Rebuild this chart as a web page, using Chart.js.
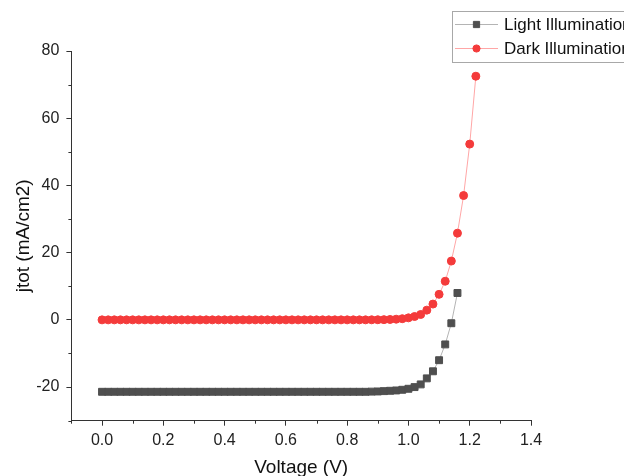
<!DOCTYPE html>
<html><head><meta charset="utf-8">
<script src="https://cdn.jsdelivr.net/npm/chart.js@4/dist/chart.umd.min.js"></script>
<style>
html,body{margin:0;padding:0;background:#fff;overflow:hidden;width:643px;height:476px}
#wrap{position:absolute;left:0;top:0;width:624px;height:476px}
</style></head><body><div id="wrap"><canvas id="c"></canvas></div>
<script>
// ---- data ----
const seriesNames = ['Light Illumination', 'Dark Illumination'];

const voltageLight = [0.00,0.02,0.04,0.06,0.08,0.10,0.12,0.14,0.16,0.18,
  0.20,0.22,0.24,0.26,0.28,0.30,0.32,0.34,0.36,0.38,
  0.40,0.42,0.44,0.46,0.48,0.50,0.52,0.54,0.56,0.58,
  0.60,0.62,0.64,0.66,0.68,0.70,0.72,0.74,0.76,0.78,
  0.80,0.82,0.84,0.86,0.88,0.90,0.92,0.94,0.96,0.98,
  1.00,1.02,1.04,1.06,1.08,1.10,1.12,1.14,1.16];
const jLight = [-21.4,-21.4,-21.4,-21.4,-21.4,-21.4,-21.4,-21.4,-21.4,-21.4,
  -21.4,-21.4,-21.4,-21.4,-21.4,-21.4,-21.4,-21.4,-21.4,-21.4,
  -21.4,-21.4,-21.4,-21.4,-21.4,-21.4,-21.4,-21.4,-21.4,-21.4,
  -21.4,-21.4,-21.4,-21.4,-21.4,-21.4,-21.4,-21.4,-21.4,-21.4,
  -21.4,-21.4,-21.4,-21.4,-21.35,-21.3,-21.2,-21.1,-21.0,-20.8,
  -20.5,-20.0,-19.2,-17.4,-15.3,-12.0,-7.3,-1.0,8.0];

const voltageDark = [0.00,0.02,0.04,0.06,0.08,0.10,0.12,0.14,0.16,0.18,
  0.20,0.22,0.24,0.26,0.28,0.30,0.32,0.34,0.36,0.38,
  0.40,0.42,0.44,0.46,0.48,0.50,0.52,0.54,0.56,0.58,
  0.60,0.62,0.64,0.66,0.68,0.70,0.72,0.74,0.76,0.78,
  0.80,0.82,0.84,0.86,0.88,0.90,0.92,0.94,0.96,0.98,
  1.00,1.02,1.04,1.06,1.08,1.10,1.12,1.14,1.16,1.18,
  1.20,1.22];
const jDark = [0,0,0,0,0,0,0,0,0,0,
  0,0,0,0,0,0,0,0,0,0,
  0,0,0,0,0,0,0,0,0,0,
  0,0,0,0,0,0,0,0,0,0,
  0,0,0,0,0.02,0.04,0.07,0.12,0.2,0.35,
  0.6,1.0,1.6,2.9,4.7,7.6,11.5,17.5,25.8,37.0,
  52.3,72.5];

const xTickLabels = ['0.0','0.2','0.4','0.6','0.8','1.0','1.2','1.4'];
const yTickLabels = ['-20','0','20','40','60','80'];
const xTitle = 'Voltage (V)';
const yTitle = 'jtot (mA/cm2)';

// ---- chart ----
const FONT = "'Liberation Sans', Arial, sans-serif";
Chart.defaults.font.family = FONT;

function toPts(xs, ys){ return xs.map((x,i)=>({x:x, y:ys[i]})); }
function xLabel(v){ const s = (Math.round(v*10)/10).toFixed(1); return xTickLabels.includes(s) ? s : ''; }
function yLabel(v){ const s = String(Math.round(v)); return yTickLabels.includes(s) ? s : ''; }

const AX = '#333333';

const minorTicks = {
  id: 'minorTicks',
  afterDraw(chart){
    const ctx = chart.ctx, ca = chart.chartArea;
    const xs = chart.scales.x, ys = chart.scales.y;
    ctx.save();
    ctx.strokeStyle = AX; ctx.lineWidth = 1;
    xs.ticks.forEach(t=>{
      if (xLabel(t.value) === '') {
        const px = Math.round(xs.getPixelForValue(t.value)) + 0.5;
        ctx.beginPath(); ctx.moveTo(px, ca.bottom); ctx.lineTo(px, ca.bottom + 3); ctx.stroke();
      }
    });
    ys.ticks.forEach(t=>{
      if (yLabel(t.value) === '') {
        const py = Math.round(ys.getPixelForValue(t.value)) + 0.5;
        ctx.beginPath(); ctx.moveTo(ca.left - 3, py); ctx.lineTo(ca.left, py); ctx.stroke();
      }
    });
    ctx.restore();
  }
};

const boxLegend = {
  id: 'boxLegend',
  afterDraw(chart){
    const ctx = chart.ctx;
    ctx.save();
    ctx.fillStyle = '#ffffff';
    ctx.fillRect(452, 11, 300, 51);
    ctx.strokeStyle = '#a8a8a8'; ctx.lineWidth = 1;
    ctx.strokeRect(452.5, 11.5, 300, 51);
    const rows = [24, 48];
    chart.data.datasets.forEach((ds, i)=>{
      const y = rows[i];
      ctx.strokeStyle = ds.borderColor; ctx.lineWidth = 1;
      ctx.beginPath(); ctx.moveTo(455, y + 0.5); ctx.lineTo(498, y + 0.5); ctx.stroke();
      ctx.fillStyle = ds.pointBackgroundColor; ctx.strokeStyle = ds.pointBorderColor;
      ctx.lineWidth = ds.pointBorderWidth;
      Chart.helpers.drawPoint(ctx, {pointStyle: ds.pointStyle, radius: ds.pointRadius * 0.9, rotation: 0, borderWidth: ds.pointBorderWidth}, 476.5, y + 0.5);
      ctx.fillStyle = '#111111';
      ctx.font = '17px ' + FONT;
      ctx.textBaseline = 'middle'; ctx.textAlign = 'left';
      ctx.fillText(ds.label, 504, y + 1);
    });
    ctx.restore();
  }
};

new Chart(document.getElementById('c'), {
  type: 'line',
  data: {
    datasets: [
      { label: seriesNames[0], data: toPts(voltageLight, jLight),
        borderColor: '#b4b4b4', borderWidth: 1,
        pointStyle: 'rect', pointRadius: 4.9, pointBorderWidth: 1,
        pointBackgroundColor: '#4f4f4f', pointBorderColor: '#4f4f4f', tension: 0 },
      { label: seriesNames[1], data: toPts(voltageDark, jDark),
        borderColor: '#ffa6a6', borderWidth: 1,
        pointStyle: 'circle', pointRadius: 4, pointBorderWidth: 1,
        pointBackgroundColor: '#f43b3b', pointBorderColor: '#f43b3b', tension: 0 }
    ]
  },
  options: {
    responsive: true, maintainAspectRatio: false, animation: false,
    devicePixelRatio: 1,
    layout: { padding: { left: 0, top: 51, right: 93, bottom: 0 } },
    plugins: { legend: { display: false }, tooltip: { enabled: false } },
    elements: { line: { fill: false } },
    scales: {
      x: {
        type: 'linear', min: -0.1, max: 1.4,
        afterFit(s){ s.height = 55.3; },
        border: { display: true, color: AX, width: 1 },
        grid: { display: true, drawOnChartArea: false, drawTicks: true, tickLength: 5,
                tickColor: c => xLabel(c.tick.value) === '' ? 'rgba(0,0,0,0)' : AX },
        ticks: { stepSize: 0.1, autoSkip: false, maxRotation: 0, padding: 5,
                 color: '#222', font: { size: 16 }, callback: v => xLabel(v) },
        title: { display: true, text: xTitle, color: '#111', font: { size: 19, lineHeight: 1 },
                 padding: { top: 0, bottom: -1 } }
      },
      y: {
        type: 'linear', min: -30, max: 80,
        afterFit(s){ s.width = 71.4; },
        border: { display: true, color: AX, width: 1 },
        grid: { display: true, drawOnChartArea: false, drawTicks: true, tickLength: 5,
                tickColor: c => yLabel(c.tick.value) === '' ? 'rgba(0,0,0,0)' : AX },
        ticks: { stepSize: 10, autoSkip: false, padding: 7,
                 color: '#222', font: { size: 16 }, callback: v => yLabel(v) },
        title: { display: true, text: yTitle, color: '#111', font: { size: 19, lineHeight: 1 },
                 padding: { top: 14, bottom: 0 } }
      }
    }
  },
  plugins: [minorTicks, boxLegend]
});
</script>
</body></html>
